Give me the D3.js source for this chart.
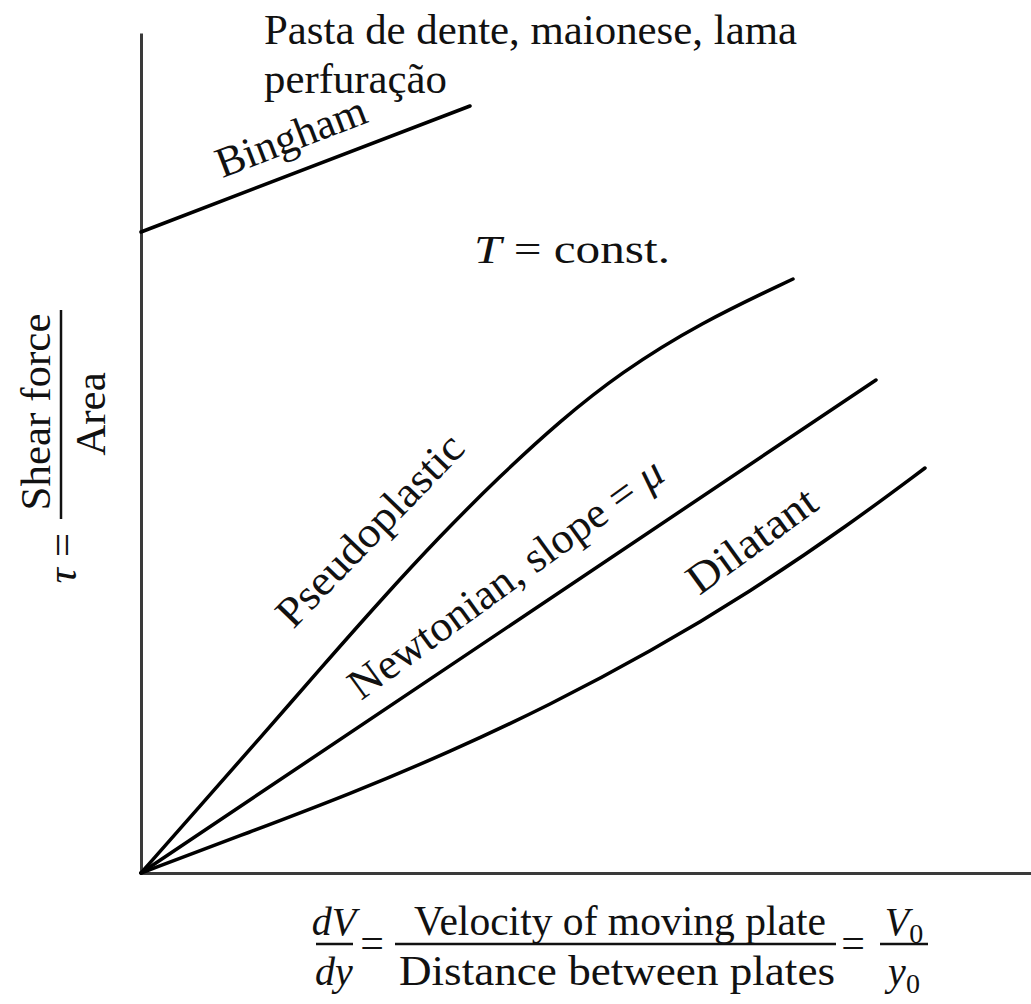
<!DOCTYPE html>
<html><head><meta charset="utf-8">
<script src="https://cdn.jsdelivr.net/npm/d3@7"></script>
<style>
html,body{margin:0;padding:0;background:#fff;}
svg{display:block;}
text{font-family:"Liberation Serif","Times New Roman",serif;fill:#111;}
</style></head>
<body>
<svg id="chart" width="1031" height="1004"></svg>
<script>
// Data (values in chart units: shear rate on x, shear stress on y)
const pseudoplastic = [[0,0],[59,67],[119,135],[179,204],[239,272],[299,337],[359,397],[419,452],[479,500],[559,550],[652,594]];
const newtonian = [[0,0],[735,493]];
const dilatant = [[0,0],[109,41],[209,79],[309,121],[409,168],[509,221],[609,281],[709,349],[784,405]];
const bingham = [[0,641],[329,767]];

const svg = d3.select("#chart");
const x = d3.scaleLinear().domain([0, 890]).range([141, 1031]);
const y = d3.scaleLinear().domain([0, 840]).range([873, 33]);

// axes
const xAxis = d3.axisBottom(x).tickValues([]).tickSizeOuter(0);
const yAxis = d3.axisLeft(y).tickValues([]).tickSizeOuter(0);
const gx = svg.append("g").attr("transform", `translate(0,${y(0)})`).call(xAxis);
const gy = svg.append("g").attr("transform", `translate(${x(0)},0)`).call(yAxis);
[gx, gy].forEach(g => g.select(".domain").attr("stroke", "#3a3a3a").attr("stroke-width", 3));

const line = d3.line().x(d => x(d[0])).y(d => y(d[1]));
const curve = d3.line().x(d => x(d[0])).y(d => y(d[1])).curve(d3.curveBasis);

[[pseudoplastic, curve], [newtonian, line], [dilatant, curve], [bingham, line]].forEach(([data, gen]) => {
  svg.append("path").datum(data).attr("d", gen)
    .attr("fill", "none").attr("stroke", "#000").attr("stroke-width", 3.5)
    .attr("stroke-linecap", "round");
});

// annotations
svg.append("text").attr("x", 264).attr("y", 44).attr("font-size", 42)
  .attr("textLength", 533).attr("lengthAdjust", "spacingAndGlyphs").text("Pasta de dente, maionese, lama");
svg.append("text").attr("x", 264).attr("y", 93).attr("font-size", 42)
  .attr("textLength", 183).attr("lengthAdjust", "spacingAndGlyphs").text("perfuração");

function rotLabel(txt, cx, cy, ang, size, len) {
  const t = svg.append("text").attr("text-anchor", "middle")
    .attr("transform", `translate(${cx},${cy}) rotate(${ang})`)
    .attr("font-size", size).text(txt);
  if (len) t.attr("textLength", len).attr("lengthAdjust", "spacingAndGlyphs");
  return t;
}
rotLabel("Bingham", 296, 150, -21, 43, 158);
rotLabel("Pseudoplastic", 380, 540, -46, 43, 250);
const nt = svg.append("text").attr("text-anchor", "middle")
  .attr("transform", `translate(514,590) rotate(-36)`).attr("font-size", 43)
  .attr("textLength", 378).attr("lengthAdjust", "spacingAndGlyphs");
nt.append("tspan").text("Newtonian, slope = ");
nt.append("tspan").attr("font-style", "italic").text("μ");
rotLabel("Dilatant", 760, 552, -36, 43, 150);

const tc = svg.append("text").attr("x", 474).attr("y", 263).attr("font-size", 40)
  .attr("textLength", 196).attr("lengthAdjust", "spacingAndGlyphs");
tc.append("tspan").attr("font-style", "italic").text("T");
tc.append("tspan").text(" = const.");

// y-axis label
const yl = svg.append("g");
yl.append("text").attr("text-anchor", "middle").attr("transform", "translate(50,412) rotate(-90)").attr("font-size", 43).text("Shear force");
yl.append("text").attr("text-anchor", "middle").attr("transform", "translate(105,414) rotate(-90)").attr("font-size", 43).text("Area");
yl.append("line").attr("x1", 61).attr("x2", 61).attr("y1", 310).attr("y2", 519).attr("stroke", "#111").attr("stroke-width", 2.5);
const tau = yl.append("text").attr("text-anchor", "end").attr("transform", "translate(76,533) rotate(-90)").attr("font-size", 43);
tau.append("tspan").attr("font-style", "italic").text("τ");
tau.append("tspan").text(" =");

// x-axis label
const xl = svg.append("g");
function center(txt, cx, by, size, italic, len) {
  const t = xl.append("text").attr("x", cx).attr("y", by).attr("text-anchor", "middle").attr("font-size", size);
  if (italic) t.attr("font-style", "italic");
  if (len) t.attr("textLength", len).attr("lengthAdjust", "spacingAndGlyphs");
  t.text(txt);
  return t;
}
center("dV", 334, 935, 40, true);
center("dy", 334, 985, 40, true);
xl.append("line").attr("x1", 316).attr("x2", 353).attr("y1", 944).attr("y2", 944).attr("stroke", "#111").attr("stroke-width", 2.5);
center("=", 372, 957, 42, false);
center("Velocity of moving plate", 620, 935, 42, false, 412);
center("Distance between plates", 617, 985, 42, false, 436);
xl.append("line").attr("x1", 395).attr("x2", 836).attr("y1", 944).attr("y2", 944).attr("stroke", "#111").attr("stroke-width", 2.5);
center("=", 853, 957, 42, false);
const v0 = xl.append("text").attr("x", 904).attr("y", 935).attr("text-anchor", "middle").attr("font-size", 40);
v0.append("tspan").attr("font-style", "italic").text("V");
v0.append("tspan").attr("font-size", 28).attr("dy", 8).text("0");
const y0 = xl.append("text").attr("x", 904).attr("y", 985).attr("text-anchor", "middle").attr("font-size", 40);
y0.append("tspan").attr("font-style", "italic").text("y");
y0.append("tspan").attr("font-size", 28).attr("dy", 8).text("0");
xl.append("line").attr("x1", 880).attr("x2", 928).attr("y1", 944).attr("y2", 944).attr("stroke", "#111").attr("stroke-width", 2.5);
</script>
</body></html>
